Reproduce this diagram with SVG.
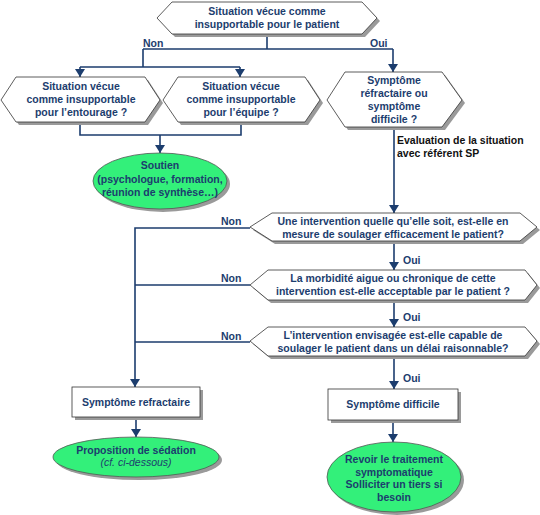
<svg xmlns="http://www.w3.org/2000/svg" width="540" height="515" viewBox="0 0 540 515">
<style>
text{font-family:"Liberation Sans",Arial,sans-serif;font-size:10.5px;font-weight:bold;fill:#1c3d6e;text-anchor:middle}
.lbl{text-anchor:start}
.blk{fill:#111;text-anchor:start}
.sh{fill:#9a9a9a}
.hx{fill:#fff;stroke:#333;stroke-width:0.8}
.el{fill:#33f07a;stroke:#555;stroke-width:0.8}
.cn{fill:none;stroke:#1c3d6e;stroke-width:1.6}
</style>
<defs>
<marker id="ah" viewBox="0 0 8 10" refX="8" refY="5" markerWidth="8" markerHeight="10" markerUnits="userSpaceOnUse" orient="auto">
<path d="M0,0 L8,5 L0,10 Z" fill="#1c3d6e"/>
</marker>
</defs>
<rect width="540" height="515" fill="#fff"/>
<g id="connectors">
<path class="cn" d="M267,34 V49 M143,49 H393 M143,49 V67 M80,67 H240"/>
<path class="cn" d="M80,67 V77" marker-end="url(#ah)"/>
<path class="cn" d="M240,67 V77" marker-end="url(#ah)"/>
<path class="cn" d="M393,49 V72" marker-end="url(#ah)"/>
<path class="cn" d="M80,122 V135 H241 V122"/>
<path class="cn" d="M160,135 V153" marker-end="url(#ah)"/>
<path class="cn" d="M394,127 V213" marker-end="url(#ah)"/>
<path class="cn" d="M394,241 V270" marker-end="url(#ah)"/>
<path class="cn" d="M394,300 V327" marker-end="url(#ah)"/>
<path class="cn" d="M394,356 V389" marker-end="url(#ah)"/>
<path class="cn" d="M250,228 H135 V387" marker-end="url(#ah)"/>
<path class="cn" d="M250,285 H135 M250,342 H135"/>
<path class="cn" d="M136,417 V437" marker-end="url(#ah)"/>
<path class="cn" d="M393,420 V442" marker-end="url(#ah)"/>
<text class="lbl" x="143" y="47">Non</text>
<text class="lbl" x="370" y="47">Oui</text>
<text class="lbl" x="221" y="225">Non</text>
<text class="lbl" x="221" y="282">Non</text>
<text class="lbl" x="221" y="340">Non</text>
<text class="lbl" x="403" y="264">Oui</text>
<text class="lbl" x="403" y="321">Oui</text>
<text class="lbl" x="403" y="382">Oui</text>
<text class="blk" x="397" y="144">Evaluation de la situation</text>
<text class="blk" x="397" y="157">avec référent SP</text>
</g>
<g id="n-top">
<polygon class="sh" points="160,21 175,5 365,5 380,21 365,37 175,37"/>
<polygon class="hx" points="157,18 172,2 362,2 377,18 362,34 172,34"/>
<text x="267" y="15">Situation vécue comme</text>
<text x="267" y="28">insupportable pour le patient</text>
</g>
<g id="n-entourage">
<polygon class="sh" points="4,103 19,80 148,80 163,103 148,125 19,125"/>
<polygon class="hx" points="1,100 16,77 145,77 160,100 145,122 16,122"/>
<text x="81" y="90">Situation vécue</text>
<text x="81" y="103">comme insupportable</text>
<text x="81" y="116">pour l’entourage ?</text>
</g>
<g id="n-equipe">
<polygon class="sh" points="166,103 181,80 308,80 323,103 308,125 181,125"/>
<polygon class="hx" points="163,100 178,77 305,77 320,100 305,122 178,122"/>
<text x="241" y="90">Situation vécue</text>
<text x="241" y="103">comme insupportable</text>
<text x="241" y="116">pour l’équipe ?</text>
</g>
<g id="n-symptome">
<polygon class="sh" points="330,103 348,75 445,75 465,103 445,130 348,130"/>
<polygon class="hx" points="327,100 345,72 442,72 462,100 442,127 345,127"/>
<text x="394" y="84">Symptôme</text>
<text x="394" y="97">réfractaire ou</text>
<text x="394" y="110">symptôme</text>
<text x="394" y="123">difficile ?</text>
</g>
<g id="n-soutien">
<ellipse class="sh" cx="163" cy="184" rx="67" ry="28"/>
<ellipse class="el" cx="160" cy="181" rx="67" ry="28"/>
<text x="160" y="169">Soutien</text>
<text x="160" y="183">(psychologue, formation,</text>
<text x="160" y="196">réunion de synthèse…)</text>
</g>
<g id="n-q1">
<polygon class="sh" points="253,230 275,216 523,216 540,230 523,244 275,244"/>
<polygon class="hx" points="250,227 272,213 520,213 537,227 520,241 272,241"/>
<text x="393" y="225">Une intervention quelle qu’elle soit, est-elle en</text>
<text x="393" y="238">mesure de soulager efficacement le patient?</text>
</g>
<g id="n-q2">
<polygon class="sh" points="253,288 271,273 528,273 540,288 528,303 271,303"/>
<polygon class="hx" points="250,285 268,270 525,270 537,285 525,300 268,300"/>
<text x="393" y="282">La morbidité aigue ou chronique de cette</text>
<text x="393" y="295">intervention est-elle acceptable par le patient ?</text>
</g>
<g id="n-q3">
<polygon class="sh" points="253,344 271,330 528,330 540,344 528,359 271,359"/>
<polygon class="hx" points="250,341 268,327 525,327 537,341 525,356 268,356"/>
<text x="393" y="339">L’intervention envisagée est-elle capable de</text>
<text x="393" y="352">soulager le patient dans un délai raisonnable?</text>
</g>
<g id="n-refractaire">
<rect class="sh" x="75" y="390" width="128" height="30"/>
<rect class="hx" x="72" y="387" width="128" height="30"/>
<text x="136" y="406">Symptôme refractaire</text>
</g>
<g id="n-sedation">
<ellipse class="sh" cx="139" cy="460" rx="83" ry="20"/>
<ellipse class="el" cx="136" cy="457" rx="83" ry="20"/>
<text x="136" y="454">Proposition de sédation</text>
<text x="136" y="466" style="font-weight:normal;font-style:italic">(cf. ci-dessous)</text>
</g>
<g id="n-difficile">
<rect class="sh" x="331" y="392" width="130" height="31"/>
<rect class="hx" x="328" y="389" width="130" height="31"/>
<text x="393" y="408">Symptôme difficile</text>
</g>
<g id="n-revoir">
<ellipse class="sh" cx="397" cy="480" rx="67" ry="35"/>
<ellipse class="el" cx="394" cy="477" rx="67" ry="35"/>
<text x="394" y="463">Revoir le traitement</text>
<text x="394" y="476">symptomatique</text>
<text x="394" y="488">Solliciter un tiers si</text>
<text x="394" y="501">besoin</text>
</g>
</svg>
